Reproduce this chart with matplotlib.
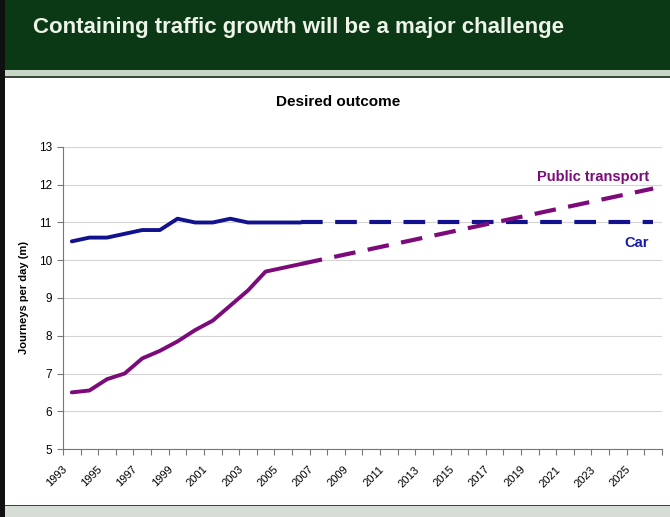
import numpy as np
import matplotlib.pyplot as plt
from matplotlib.patches import Rectangle
from matplotlib.transforms import ScaledTranslation

plt.rcParams['font.family'] = ['Liberation Sans', 'DejaVu Sans']

years = list(range(1993, 2027))

# actual figures, 1993-2006
car_actual = [10.5, 10.6, 10.6, 10.7, 10.8, 10.8, 11.1, 11.0, 11.0, 11.1, 11.0, 11.0, 11.0, 11.0]
pt_actual = [6.5, 6.55, 6.85, 7.0, 7.4, 7.6, 7.85, 8.15, 8.4, 8.8, 9.2, 9.7, 9.8, 9.9]

# desired outcome, 2006-2026
car_target = [11.0] * 21
pt_target = [9.9, 10.0, 10.1, 10.2, 10.3, 10.4, 10.5, 10.6, 10.7, 10.8, 10.9,
             11.0, 11.1, 11.2, 11.3, 11.4, 11.5, 11.6, 11.7, 11.8, 11.9]

car_col = '#12128f'
pt_col = '#7d0a7b'

fig = plt.figure(figsize=(6.7, 5.17), dpi=100)

# header band
fig.add_artist(Rectangle((0, 0.862), 1, 0.138, transform=fig.transFigure,
                         facecolor='#0b3815', edgecolor='none', zorder=0))
fig.add_artist(Rectangle((0, 0.852), 1, 0.012, transform=fig.transFigure,
                         facecolor='#c8d6c8', edgecolor='none', zorder=0))
fig.add_artist(Rectangle((0, 0.849), 1, 0.004, transform=fig.transFigure,
                         facecolor='#3a4a3a', edgecolor='none', zorder=0))
# footer strip
fig.add_artist(Rectangle((0, 0), 1, 0.022, transform=fig.transFigure,
                         facecolor='#d6ddd6', edgecolor='none', zorder=0))
fig.add_artist(Rectangle((0, 0.021), 1, 0.003, transform=fig.transFigure,
                         facecolor='#404040', edgecolor='none', zorder=0))
# left border
fig.add_artist(Rectangle((0, 0), 0.008, 1, transform=fig.transFigure,
                         facecolor='#101010', edgecolor='none', zorder=1))

fig.text(0.049, 0.947, 'Containing traffic growth will be a major challenge',
         color='#eef5e8', fontsize=16, fontweight='bold', va='center', ha='left')
fig.text(0.505, 0.803, 'Desired outcome', fontsize=11, fontweight='bold',
         ha='center', va='center')

ax = fig.add_axes([0.094, 0.1315, 0.894, 0.5842])

x = np.arange(len(years))
n_act = len(car_actual)
x_act = x[:n_act]
x_tgt = x[n_act - 1:]

ax.plot(x_act, car_actual, color=car_col, lw=2.8, solid_capstyle='round', zorder=3)
ax.plot(x_act, pt_actual, color=pt_col, lw=2.8, solid_capstyle='round', zorder=3)
ax.plot(x_tgt, car_target, color=car_col, lw=3.0, dashes=(5.2, 3.0), zorder=3)
ax.plot(x_tgt, pt_target, color=pt_col, lw=3.0, dashes=(5.2, 3.0), zorder=3)

ax.text(32.75, 12.2, 'Public transport', color=pt_col, fontsize=10.5,
        fontweight='bold', ha='right', va='center')
ax.text(32.75, 10.45, 'Car', color='#1a1ab0', fontsize=10.5,
        fontweight='bold', ha='right', va='center')

ax.set_xlim(-0.5, len(years) - 0.5)
ax.set_ylim(5, 13)
ax.set_yticks(range(5, 14))
ax.yaxis.grid(True, color='#d4d4d4', lw=0.8)
ax.set_axisbelow(True)

# category ticks between years, labels on every other year
ax.set_xticks(x[::2])
ax.set_xticklabels([str(y) for y in years[::2]], rotation=45, ha='right',
                   rotation_mode='anchor', fontsize=8)
ax.set_xticks(np.arange(-0.5, len(years)), minor=True)
ax.tick_params(axis='x', which='major', length=0, pad=11)
ax.tick_params(axis='x', which='minor', length=4, color='#777777', width=0.8)
ax.tick_params(axis='y', length=4, color='#777777', width=0.8, labelsize=8.5, pad=4)
shift = ScaledTranslation(-0.1, 0, fig.dpi_scale_trans)
for lab in ax.get_xticklabels():
    lab.set_transform(lab.get_transform() + shift)

for side in ['top', 'right']:
    ax.spines[side].set_visible(False)
for side in ['left', 'bottom']:
    ax.spines[side].set_color('#777777')
    ax.spines[side].set_linewidth(0.8)

ax.set_ylabel('Journeys per day (m)', fontsize=8, fontweight='bold', labelpad=7)

fig.savefig('out.png', dpi=100)
